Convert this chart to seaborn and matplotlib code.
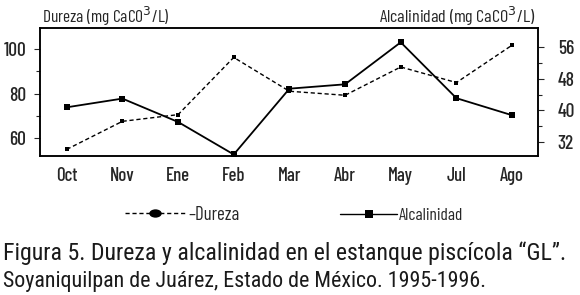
import pandas as pd
import matplotlib.pyplot as plt
import seaborn as sns
from matplotlib.lines import Line2D
from matplotlib.markers import MarkerStyle
from matplotlib.transforms import Affine2D
from matplotlib.ticker import FixedLocator

sns.set_style("white")
plt.rcParams['font.family'] = ['Barlow Condensed', 'Roboto Condensed', 'DejaVu Sans']
cap_font = ['Roboto Condensed', 'DejaVu Sans']

meses = ['Oct', 'Nov', 'Ene', 'Feb', 'Mar', 'Abr', 'May', 'Jul', 'Ago']
dureza = [55.0, 67.6, 70.6, 96.3, 81.1, 79.3, 92.0, 85.0, 101.8]
alcalinidad = [40.8, 43.0, 37.1, 28.9, 45.5, 46.6, 57.2, 43.1, 38.8]

df = pd.DataFrame({'mes': range(len(meses)), 'Dureza': dureza, 'Alcalinidad': alcalinidad})

fig = plt.figure(figsize=(5.8, 2.95), dpi=100)
ax = fig.add_axes([0.069, 0.471, 0.859, 0.434])
ax2 = ax.twinx()

sns.lineplot(data=df, x='mes', y='Dureza', ax=ax, color='black', linewidth=1.0,
             linestyle=(0, (3, 2)), marker='s', markersize=3.5, markeredgewidth=0)
sns.lineplot(data=df, x='mes', y='Alcalinidad', ax=ax2, color='black', linewidth=1.3,
             marker='s', markersize=4, markeredgewidth=0)

ax.set_xlim(-0.48, 8.47)
ax.set_ylim(52, 109.5)
ax2.set_ylim(28.5, 60.8)

ax.set_xticks(range(len(meses)))
ax.set_xticklabels(meses)
ax.set_yticks([60, 80, 100])
ax.yaxis.set_minor_locator(FixedLocator([70, 90]))
ax2.set_yticks([32, 40, 48, 56])
ax2.yaxis.set_minor_locator(FixedLocator([36, 44, 52]))

ax.set_xlabel('')
ax.set_ylabel('')
ax2.set_ylabel('')
ax.tick_params(axis='x', length=0, pad=8, labelsize=13.5)
ax.tick_params(axis='y', which='major', direction='out', length=4, width=0.8, pad=6, labelsize=14)
ax.tick_params(axis='y', which='minor', direction='out', length=3, width=0.8, left=True)
ax2.tick_params(axis='y', which='major', direction='out', length=4, width=0.8, pad=10, labelsize=14)
ax2.tick_params(axis='y', which='minor', direction='out', length=3, width=0.8, right=True)
for lab in ax.get_xticklabels() + ax.get_yticklabels() + ax2.get_yticklabels():
    lab.set_fontweight(500)

for a in (ax, ax2):
    for s in a.spines.values():
        s.set_color('black')
        s.set_linewidth(1.1)

fig.text(0.072, 0.923, r'Dureza (mg CaCO$^3$/L)', fontsize=12.5, ha='left', va='baseline')
fig.text(0.923, 0.923, r'Alcalinidad (mg CaCO$^3$/L)', fontsize=13, ha='right', va='baseline')

h_dur = Line2D([], [], color='black', linewidth=1.0, linestyle=(0, (3, 2)),
               marker=MarkerStyle('o', transform=Affine2D().scale(1.5, 1.0)),
               markersize=6, markeredgewidth=0)
h_alc = Line2D([], [], color='black', linewidth=1.0, marker='s', markersize=6, markeredgewidth=0)
fig.legend([h_dur], ['–Dureza'], loc='center left', bbox_to_anchor=(125 / 580, 0.271),
           frameon=False, fontsize=13.5, handlelength=3.2, handletextpad=0.2, borderpad=0,
           borderaxespad=0)
fig.legend([h_alc], ['Alcalinidad'], loc='center left', bbox_to_anchor=(340 / 580, 0.271),
           frameon=False, fontsize=12.5, handlelength=3.3, handletextpad=0.1, borderpad=0,
           borderaxespad=0)

fig.text(0.005, 0.119, 'Figura 5. Dureza y alcalinidad en el estanque piscícola “GL”.',
         fontsize=17.2, ha='left', va='baseline', family=cap_font, color='#1a1a1a')
fig.text(0.005, 0.027, 'Soyaniquilpan de Juárez, Estado de México. 1995-1996.',
         fontsize=15.8, ha='left', va='baseline', family=cap_font, color='#1a1a1a')

fig.savefig('out.png', dpi=100)
